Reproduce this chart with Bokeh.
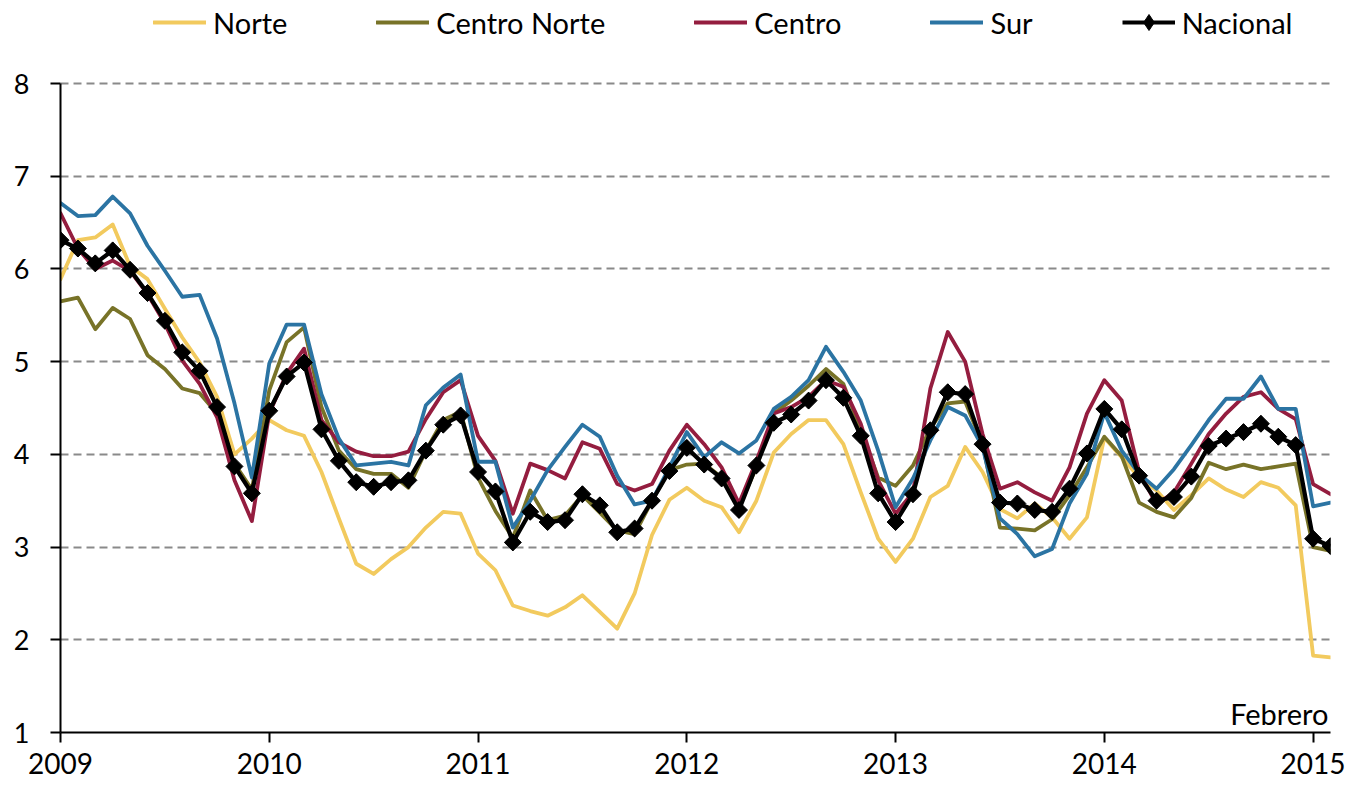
import math
from bokeh.plotting import figure
from bokeh.models import Range1d, FixedTicker, Legend, LegendItem, Label
from bokeh.embed import file_html
from bokeh.resources import INLINE

# ---------------- data ----------------
year_ticks = [2009, 2010, 2011, 2012, 2013, 2014, 2015]
y_ticks = [1, 2, 3, 4, 5, 6, 7, 8]
n_months = 74  # enero 2009 .. febrero 2015
fecha = [2009 + m / 12 for m in range(n_months)]

norte = [5.89, 6.31, 6.34, 6.48, 6.03, 5.89, 5.57, 5.26, 4.99, 4.62, 4.00, 4.17,
         4.37, 4.26, 4.20, 3.81, 3.31, 2.82, 2.71, 2.87, 3.00, 3.21, 3.38, 3.36,
         2.93, 2.75, 2.37, 2.31, 2.26, 2.35, 2.48, 2.30, 2.12, 2.50, 3.13, 3.51,
         3.64, 3.50, 3.43, 3.16, 3.50, 4.02, 4.22, 4.37, 4.37, 4.11, 3.59, 3.09,
         2.84, 3.09, 3.54, 3.66, 4.08, 3.81, 3.41, 3.31, 3.47, 3.32, 3.09, 3.32,
         4.18, 3.97, 3.75, 3.61, 3.40, 3.56, 3.74, 3.62, 3.54, 3.70, 3.64, 3.45,
         1.83, 1.81]

centro_norte = [5.65, 5.69, 5.35, 5.58, 5.46, 5.07, 4.92, 4.71, 4.66, 4.44, 3.90, 3.62,
                4.69, 5.21, 5.37, 4.51, 4.04, 3.84, 3.79, 3.79, 3.64, 4.04, 4.37, 4.46,
                3.75, 3.39, 3.10, 3.61, 3.29, 3.34, 3.56, 3.37, 3.18, 3.14, 3.50, 3.83,
                3.89, 3.90, 3.75, 3.43, 3.86, 4.44, 4.58, 4.74, 4.92, 4.76, 4.26, 3.75,
                3.66, 3.88, 4.28, 4.55, 4.57, 4.11, 3.21, 3.20, 3.18, 3.30, 3.56, 3.86,
                4.19, 3.98, 3.48, 3.38, 3.32, 3.53, 3.91, 3.84, 3.89, 3.84, 3.87, 3.90,
                3.00, 2.96]

centro = [6.60, 6.22, 6.00, 6.09, 5.98, 5.73, 5.41, 5.01, 4.76, 4.40, 3.72, 3.28,
          4.44, 4.87, 5.14, 4.37, 4.13, 4.03, 3.98, 3.98, 4.03, 4.38, 4.67, 4.80,
          4.20, 3.93, 3.36, 3.90, 3.83, 3.74, 4.13, 4.06, 3.68, 3.61, 3.68, 4.04,
          4.32, 4.11, 3.86, 3.47, 3.93, 4.44, 4.51, 4.62, 4.80, 4.73, 4.33, 3.72,
          3.36, 3.59, 4.71, 5.32, 5.00, 4.22, 3.63, 3.70, 3.59, 3.50, 3.86, 4.44,
          4.80, 4.58, 3.81, 3.46, 3.59, 3.90, 4.22, 4.44, 4.62, 4.67, 4.49, 4.38,
          3.68, 3.57]

sur = [6.71, 6.57, 6.58, 6.78, 6.60, 6.25, 5.98, 5.70, 5.72, 5.25, 4.55, 3.75,
       4.98, 5.40, 5.40, 4.65, 4.17, 3.88, 3.90, 3.92, 3.88, 4.53, 4.72, 4.86,
       3.92, 3.92, 3.21, 3.50, 3.83, 4.08, 4.32, 4.19, 3.77, 3.46, 3.50, 3.86,
       4.24, 3.97, 4.13, 4.01, 4.15, 4.49, 4.62, 4.80, 5.16, 4.89, 4.58, 4.04,
       3.43, 3.74, 4.15, 4.51, 4.42, 4.08, 3.31, 3.14, 2.90, 2.98, 3.47, 3.79,
       4.45, 4.04, 3.79, 3.63, 3.84, 4.10, 4.37, 4.60, 4.60, 4.84, 4.49, 4.49,
       3.44, 3.48]

nacional = [6.31, 6.22, 6.06, 6.20, 5.99, 5.74, 5.44, 5.10, 4.90, 4.51, 3.87, 3.58,
            4.47, 4.84, 4.99, 4.27, 3.93, 3.70, 3.65, 3.70, 3.72, 4.04, 4.32, 4.42,
            3.81, 3.60, 3.05, 3.38, 3.27, 3.29, 3.57, 3.45, 3.16, 3.20, 3.50, 3.82,
            4.07, 3.89, 3.74, 3.40, 3.88, 4.34, 4.43, 4.58, 4.80, 4.61, 4.20, 3.58,
            3.27, 3.57, 4.26, 4.67, 4.65, 4.11, 3.48, 3.47, 3.40, 3.38, 3.63, 4.01,
            4.49, 4.27, 3.77, 3.50, 3.54, 3.76, 4.09, 4.17, 4.24, 4.33, 4.19, 4.10,
            3.09, 3.01]

series_names = ["Norte", "Centro Norte", "Centro", "Sur"]
series_values = [norte, centro_norte, centro, sur]
series_colors = ["#F2CA5E", "#787328", "#941D3F", "#2B74A3"]
note_text = "Febrero"

FONT = "Lato"

# layout constants (pixels)
W, H = 1349, 787
LEFT, RIGHT, BOTTOM = 60, 19, 55
PLOT_TOP = 83                 # where the value 8 sits
frame_h = H - BOTTOM
y_span = y_ticks[-1] - y_ticks[0]
y_top = y_ticks[0] + y_span * frame_h / (frame_h - PLOT_TOP)   # room above 8 for the legend

# ---------------- figure ----------------
p = figure(width=W, height=H, output_backend="svg", toolbar_location=None,
           x_range=Range1d(fecha[0], fecha[-1]), y_range=Range1d(y_ticks[0], y_top),
           min_border_left=LEFT, min_border_right=RIGHT, min_border_top=0, min_border_bottom=BOTTOM,
           background_fill_color="white", border_fill_color="white")
p.outline_line_color = None

# axes
p.xaxis.ticker = FixedTicker(ticks=year_ticks)
p.yaxis.ticker = FixedTicker(ticks=y_ticks)
p.yaxis.bounds = (y_ticks[0], y_ticks[-1])
for ax in (p.xaxis[0], p.yaxis[0]):
    ax.axis_line_color = "black"
    ax.axis_line_width = 2
    ax.major_tick_line_color = "black"
    ax.major_tick_line_width = 2
    ax.major_tick_in = 0
    ax.major_tick_out = 10
    ax.minor_tick_line_color = None
    ax.major_label_text_font = FONT
    ax.major_label_text_color = "black"
p.xaxis.major_label_text_font_size = "28px"
p.xaxis.major_label_standoff = 10
p.yaxis.major_label_text_font_size = "27px"
p.yaxis.major_label_standoff = 21

# grid
p.xgrid.visible = False
p.ygrid.ticker = FixedTicker(ticks=y_ticks)
p.ygrid.grid_line_color = "#8A8A8A"
p.ygrid.grid_line_width = 2
p.ygrid.grid_line_dash = "8 5"

# lines
items = []
for name, vals, col in zip(series_names, series_values, series_colors):
    r = p.line(fecha, vals, line_color=col, line_width=3.8, line_join="round", line_cap="round")
    items.append(LegendItem(label=name, renderers=[r]))

rn = p.line(fecha, nacional, line_color="black", line_width=4.2, line_join="round")
rd = p.scatter(fecha, nacional, marker="diamond", size=16,
               fill_color="black", line_color="black")
rm = p.scatter(fecha, nacional, marker="square", angle=math.pi / 4, size=12,
               fill_color="black", line_color="black")
items.append(LegendItem(label="Nacional", renderers=[rn, rd]))

legend = Legend(items=items, orientation="horizontal", location=(93, 690),
                border_line_color=None, background_fill_alpha=0, padding=0, margin=0,
                spacing=89, glyph_width=53, glyph_height=40, label_standoff=7,
                label_text_font=FONT, label_text_font_size="29px", label_text_color="black")
p.add_layout(legend)

# note
p.add_layout(Label(x=fecha[-1], y=y_ticks[0], x_offset=-2, y_offset=2, text=note_text,
                   text_align="right", text_baseline="bottom", text_font=FONT,
                   text_font_size="29px", text_color="black"))

open("out.html", "w").write(file_html(p, INLINE))
